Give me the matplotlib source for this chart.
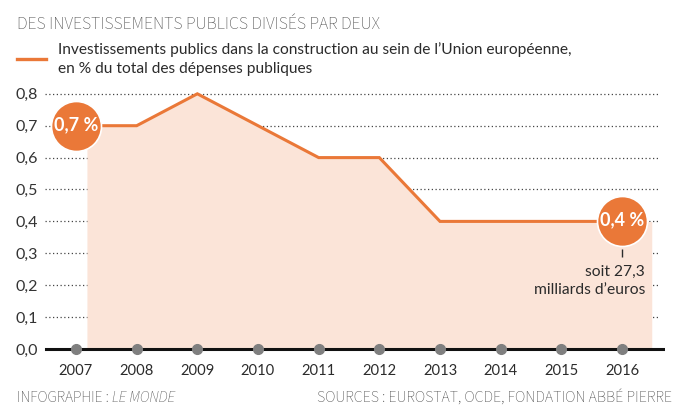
import matplotlib
matplotlib.use("Agg")
import matplotlib.pyplot as plt
import numpy as np

CORPS = ['Lato', 'DejaVu Sans']
LEGER = ['Source Sans 3', 'DejaVu Sans']
plt.rcParams['font.family'] = CORPS

# données
annees = [2007, 2008, 2009, 2010, 2011, 2012, 2013, 2014, 2015, 2016]
part = [0.7, 0.7, 0.8, 0.7, 0.6, 0.6, 0.4, 0.4, 0.4, 0.4]
yticks = [0.0, 0.1, 0.2, 0.3, 0.4, 0.5, 0.6, 0.7, 0.8]
ytick_labels = ["0,0", "0,1", "0,2", "0,3", "0,4", "0,5", "0,6", "0,7", "0,8"]
label_debut = "0,7 %"
label_fin = "0,4 %"

orange = "#EA7838"
rose = "#FBE4D8"
gris = "#555555"
texte = "#2b2b2b"

W, H = 688, 412
fig = plt.figure(figsize=(W / 100, H / 100), dpi=100)
rend = fig.canvas.get_renderer()


def ajuster(textes, largeur):
    # met les textes à la taille qui donne la largeur voulue (en pixels)
    tot = sum(t.get_window_extent(rend).width for t in textes)
    for t in textes:
        t.set_fontsize(t.get_fontsize() * largeur / tot)


# axes : de x=35 px à 665 px, y=0 à 349 px depuis le haut
px_an = 60.67
x0 = 2007 - 41 / px_an
x1 = 2016 + 43 / px_an
ylo, yhi = -0.03, 0.85
px_unit = 319
h_px = (yhi - ylo) * px_unit
bottom_px = H - (349 + (0 - ylo) * px_unit)
ax = fig.add_axes([35 / W, bottom_px / H, 630 / W, h_px / H])
ax.set_xlim(x0, x1)
ax.set_ylim(ylo, yhi)
for s in ax.spines.values():
    s.set_visible(False)

# grille pointillée
for v in yticks[1:]:
    ax.axhline(v, xmin=10 / 630, xmax=623 / 630, color="#444444",
               linestyle=(0, (1, 2)), linewidth=0.9, zorder=1)

# zone remplie
fx = [2007.18] + annees[1:] + [2016.49]
fy = np.interp(fx, annees, part)
ax.fill_between(fx, 0, fy, color=rose, linewidth=0, zorder=2)

# ligne de base
ax.axhline(0, xmin=11 / 630, xmax=1.0, color="#111111", linewidth=2.2, zorder=3)
ax.plot(annees, [0] * len(annees), "o", color="#7f7f7f", markersize=7, zorder=4)

# courbe
ax.plot(annees, part, color=orange, linewidth=2.2, zorder=5, solid_joinstyle="miter")

# cercles
for xa, ya, lab in [(annees[0], part[0], label_debut), (annees[-1], part[-1], label_fin)]:
    ax.plot(xa, ya, "o", color=orange, markersize=36, markeredgecolor="white",
            markeredgewidth=1.2, zorder=6, clip_on=False)
    t = ax.text(xa, ya + 0.004, lab, color="white", fontsize=12, fontweight="bold",
                ha="center", va="center", zorder=7)
    ajuster([t], 44)

# annotation
ax.vlines(annees[-1], 0.287, 0.312, color=texte, linewidth=1, zorder=6)
t1 = ax.text(2016.38, 0.228, "soit 27,3", color=texte,
             fontsize=11, ha="right", va="baseline", zorder=6)
t2 = ax.text(2016.38, 0.171, "milliards d\u2019euros", color=texte,
             fontsize=11, ha="right", va="baseline", zorder=6)
ajuster([t2], 111)
t1.set_fontsize(t2.get_fontsize())

# ticks
ax.set_yticks(yticks)
ax.set_yticklabels(ytick_labels)
ax.set_xticks(annees)
ax.set_xticklabels([str(a) for a in annees])
ax.tick_params(axis="y", length=0, pad=1, labelcolor="#333333")
ax.tick_params(axis="x", length=0, pad=4, labelcolor=texte)
ajuster([ax.get_xticklabels()[0]], 34)
ajuster([ax.get_yticklabels()[0]], 22)
ax.tick_params(axis="x", labelsize=ax.get_xticklabels()[0].get_fontsize())
ax.tick_params(axis="y", labelsize=ax.get_yticklabels()[0].get_fontsize())
for t in ax.get_yticklabels():
    t.set_horizontalalignment("left")
    t.set_x(-0.029)

# titres
tt = fig.text(17 / W, 1 - 24 / H, "DES INVESTISSEMENTS PUBLICS DIVISÉS PAR DEUX",
              color=gris, fontsize=12, va="center", ha="left", family=LEGER)
ajuster([tt], 363)
fig.add_artist(plt.Line2D([17 / W, 46 / W], [1 - 59 / H, 1 - 59 / H],
                          color=orange, linewidth=2.4))
l1 = fig.text(58 / W, 1 - 50 / H,
              "Investissements publics dans la construction au sein de l\u2019Union européenne,",
              color=texte, fontsize=11, va="center", ha="left")
ajuster([l1], 515)
fig.text(58 / W, 1 - 69 / H, "en % du total des dépenses publiques",
         color=texte, fontsize=l1.get_fontsize(), va="center", ha="left")

# sources
s1 = fig.text(17 / W, 1 - 398 / H, "INFOGRAPHIE : ", color=gris, fontsize=11,
              va="center", ha="left", family=LEGER)
s2 = fig.text(0, 1 - 398 / H, "LE MONDE", color=gris, fontsize=11,
              style="italic", va="center", ha="left", family=LEGER)
ajuster([s1, s2], 158)
s2.set_x(s1.get_window_extent(rend).x1 / W)
s3 = fig.text(672 / W, 1 - 398 / H, "SOURCES : EUROSTAT, OCDE, FONDATION ABBÉ PIERRE",
              color=gris, fontsize=11, va="center", ha="right", family=LEGER)
ajuster([s3], 354)

fig.savefig("out.png", dpi=100)
